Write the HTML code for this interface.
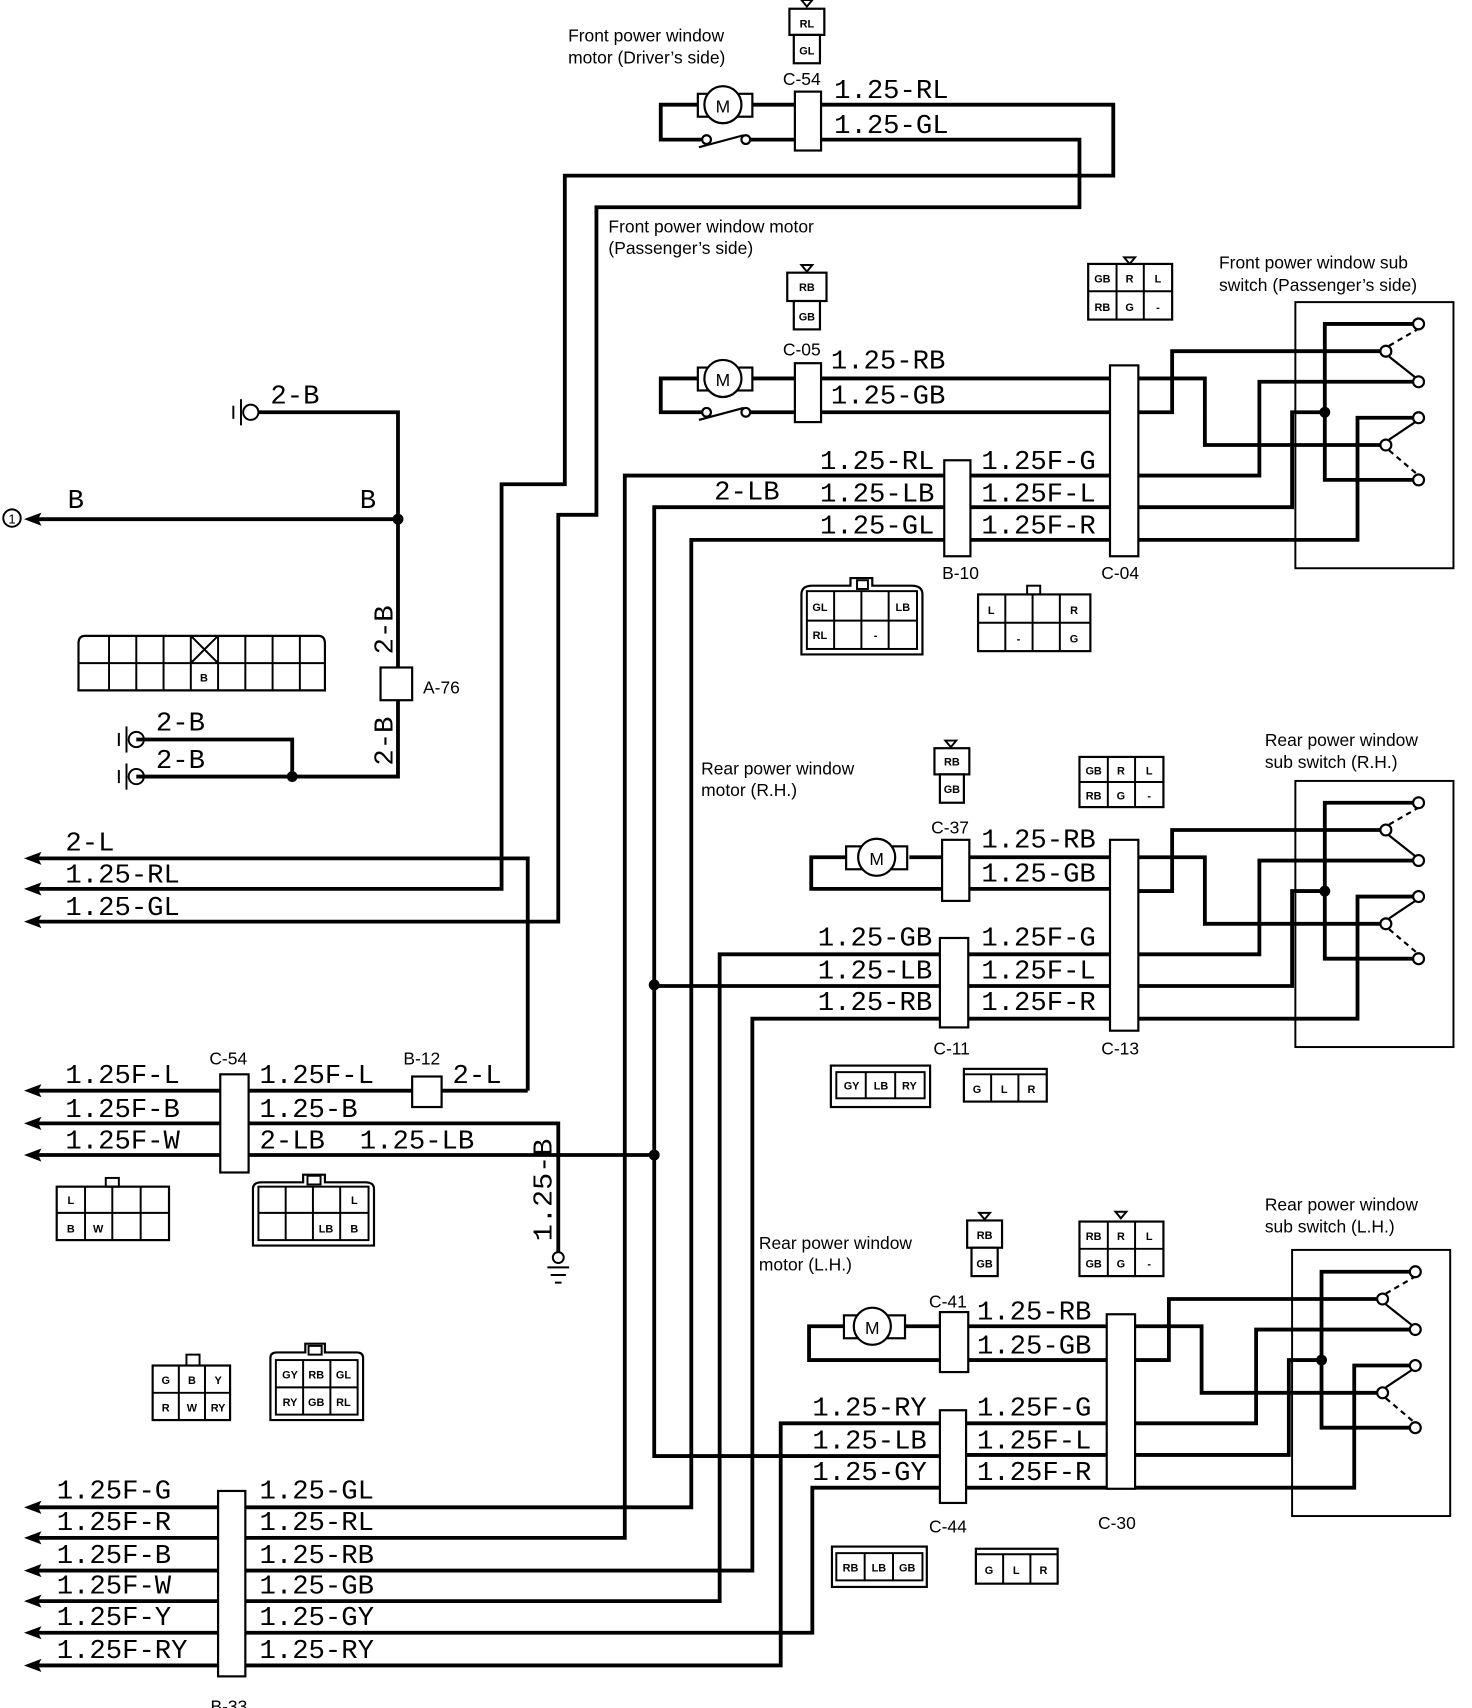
<!DOCTYPE html>
<html><head><meta charset="utf-8"><style>
html,body{margin:0;padding:0;background:#fff;width:1472px;height:1708px;overflow:hidden}
svg{display:block}
.w{fill:none;stroke:#000;stroke-width:3.5}
.t{fill:none;stroke:#000;stroke-width:1.8}
.c{fill:#fff;stroke:#000;stroke-width:2}
.m{font-family:"Liberation Mono",monospace;font-size:25px;fill:#000}
.s{font-family:"Liberation Sans",sans-serif;font-size:16px;fill:#000}
.k{font-family:"Liberation Sans",sans-serif;font-size:10px;font-weight:bold;fill:#000;text-anchor:middle}
</style></head><body>
<svg width="1472" height="1708" viewBox="0 0 1350 1566" preserveAspectRatio="none" xmlns="http://www.w3.org/2000/svg">
<defs>
<g id="arr"><path d="M0 0 L16 -6 L13 0 L16 6 Z" fill="#000"/></g>
<g id="gnd"><circle cx="0" cy="0" r="7" class="t" fill="#fff"/><line x1="-9" y1="-12" x2="-9" y2="12" class="t"/><line x1="-16" y1="-6" x2="-16" y2="6" class="t"/></g>
<g id="sw">
<rect x="1188" y="277" width="145" height="244" class="t"/>
<path class="w" d="M1044 347 H1105 V408 H1266 M1044 378 H1075 V322 H1266 M1044 436 H1155 V350 H1296 M1044 465 H1185 V378 H1215 M1044 495 H1245 V383 H1296 M1296 297 H1215 V440 H1296"/>
<circle cx="1215" cy="378" r="5" fill="#000"/>
<g fill="#fff" stroke="#000" stroke-width="2"><circle cx="1301" cy="297" r="5"/><circle cx="1271" cy="322" r="5"/><circle cx="1301" cy="350" r="5"/><circle cx="1301" cy="383" r="5"/><circle cx="1271" cy="408" r="5"/><circle cx="1301" cy="440" r="5"/></g>
<line x1="1274" y1="327" x2="1298" y2="346" stroke="#000" stroke-width="2"/>
<line x1="1274" y1="317" x2="1300" y2="302" stroke="#000" stroke-width="2" stroke-dasharray="5,4"/>
<line x1="1274" y1="403" x2="1298" y2="387" stroke="#000" stroke-width="2"/>
<line x1="1274" y1="413" x2="1300" y2="435" stroke="#000" stroke-width="2" stroke-dasharray="5,4"/>
</g>
</defs>

<!-- Driver side -->
<path d="M735 0 L745 0 L740 6 Z" class="t"/>
<rect x="724" y="8" width="32" height="24" class="c"/><text x="740" y="25" class="k">RL</text>
<rect x="728" y="32" width="24" height="26" class="c"/><text x="740" y="50" class="k">GL</text>
<text x="521" y="38" class="s">Front power window</text>
<text x="521" y="58" class="s">motor (Driver’s side)</text>
<text x="718" y="78" class="s">C-54</text>
<path class="w" d="M753 96 H1021 V161 H518 V444 H460 V815 H30"/>
<path class="w" d="M753 128 H990 V190 H547 V472 H512 V845 H30"/>
<path class="w" d="M640 96 H606 V128 H644 M688 128 H730 M686 96 H730"/>
<rect x="640" y="86" width="50" height="21" class="c"/><circle cx="663" cy="96" r="17" class="c"/><text x="663" y="103" class="s" text-anchor="middle">M</text>
<circle cx="648" cy="128" r="4" class="c"/><circle cx="684" cy="128" r="4" class="c"/><line x1="641" y1="135" x2="682" y2="124" stroke="#000" stroke-width="2"/>
<rect x="729" y="84" width="24" height="54" class="c"/>
<text x="765" y="90" class="m">1.25-RL</text><text x="765" y="122" class="m">1.25-GL</text>

<!-- Front passenger -->
<text x="558" y="213" class="s">Front power window motor</text>
<text x="558" y="233" class="s">(Passenger’s side)</text>
<path d="M735 243 L745 243 L740 249 Z" class="t"/>
<rect x="722" y="250" width="36" height="26" class="c"/><text x="740" y="267" class="k">RB</text>
<rect x="728" y="276" width="24" height="26" class="c"/><text x="740" y="294" class="k">GB</text>
<path d="M1031 236 L1041 236 L1036 242 Z" class="t"/>
<rect x="998" y="242" width="77" height="51" class="c"/><path class="t" d="M998 267 H1075 M1024 242 V293 M1049 242 V293"/>
<text x="1011" y="259" class="k">GB</text><text x="1036" y="259" class="k">R</text><text x="1062" y="259" class="k">L</text>
<text x="1011" y="285" class="k">RB</text><text x="1036" y="285" class="k">G</text><text x="1062" y="285" class="k">-</text>
<text x="1118" y="246" class="s">Front power window sub</text>
<text x="1118" y="267" class="s">switch (Passenger’s side)</text>
<use href="#sw"/>
<path class="w" d="M640 347 H606 V378 H644 M688 378 H730 M686 347 H730 M753 347 H1018 M753 378 H1018"/>
<rect x="640" y="337" width="50" height="21" class="c"/><circle cx="663" cy="347" r="17" class="c"/><text x="663" y="354" class="s" text-anchor="middle">M</text>
<circle cx="648" cy="378" r="4" class="c"/><circle cx="684" cy="378" r="4" class="c"/><line x1="641" y1="385" x2="682" y2="374" stroke="#000" stroke-width="2"/>
<rect x="729" y="333" width="24" height="54" class="c"/>
<text x="718" y="326" class="s">C-05</text>
<text x="762" y="338" class="m">1.25-RB</text><text x="762" y="370" class="m">1.25-GB</text>
<path class="w" d="M866 436 H573 V1410 H225 M866 465 H600 V1335 H862 M866 495 H634 V1382 H225 M890 436 H1018 M890 465 H1018 M890 495 H1018"/>
<rect x="866" y="422" width="24" height="88" class="c"/>
<rect x="1018" y="335" width="26" height="175" class="c"/>
<text x="752" y="430" class="m">1.25-RL</text><text x="655" y="458" class="m">2-LB</text><text x="752" y="460" class="m">1.25-LB</text><text x="752" y="489" class="m">1.25-GL</text>
<text x="900" y="430" class="m">1.25F-G</text><text x="900" y="460" class="m">1.25F-L</text><text x="900" y="489" class="m">1.25F-R</text>
<text x="864" y="531" class="s">B-10</text><text x="1010" y="531" class="s">C-04</text>
<!-- front connectors -->
<path class="c" d="M735 545 Q735 537 745 537 H780 V530 H800 V537 H836 Q846 537 846 545 V600 H735 Z"/>
<rect x="786" y="532" width="10" height="8" class="t"/>
<rect x="740" y="542" width="101" height="53" class="t"/>
<path class="t" d="M740 569 H841 M765 542 V595 M790 542 V595 M815 542 V595"/>
<text x="752" y="560" class="k">GL</text><text x="828" y="560" class="k">LB</text><text x="752" y="586" class="k">RL</text><text x="803" y="586" class="k">-</text>
<rect x="897" y="545" width="103" height="52" class="c"/><rect x="942" y="537" width="12" height="8" class="t"/>
<path class="t" d="M897 571 H1000 M922 545 V597 M947 545 V597 M972 545 V597"/>
<text x="909" y="563" class="k">L</text><text x="985" y="563" class="k">R</text><text x="934" y="589" class="k">-</text><text x="985" y="589" class="k">G</text>

<!-- Left upper -->
<use href="#gnd" x="230" y="378"/>
<text x="248" y="370" class="m">2-B</text>
<path class="w" d="M237 378 H365 V612 M365 642 V712 H125"/>
<path class="w" d="M125 678 H268 V712"/>
<circle cx="365" cy="476" r="5" fill="#000"/><circle cx="268" cy="712" r="5" fill="#000"/>
<path class="w" d="M365 476 H30"/><use href="#arr" x="22" y="476"/>
<circle cx="11" cy="475" r="8" class="t"/><text x="11" y="480" class="k" style="font-weight:normal;font-size:12px">1</text>
<text x="62" y="466" class="m">B</text><text x="330" y="466" class="m">B</text>
<rect x="349" y="612" width="29" height="30" class="c"/><text x="388" y="636" class="s">A-76</text>
<text transform="translate(360,600) rotate(-90)" class="m">2-B</text>
<text transform="translate(360,702) rotate(-90)" class="m">2-B</text>
<use href="#gnd" x="125" y="678"/><use href="#gnd" x="125" y="712"/>
<text x="143" y="670" class="m">2-B</text><text x="143" y="704" class="m">2-B</text>
<path class="c" d="M72 590 Q72 583 78 583 H292 Q298 583 298 590 V633 H72 Z"/>
<path class="t" d="M72 608 H298 M100 583 V633 M125 583 V633 M150 583 V633 M175 583 V633 M200 583 V633 M225 583 V633 M250 583 V633 M275 583 V633 M175 583 L200 608 M200 583 L175 608"/>
<text x="187" y="625" class="k">B</text>

<path class="w" d="M484 1000 V787 H30"/>
<use href="#arr" x="22" y="787"/><use href="#arr" x="22" y="815"/><use href="#arr" x="22" y="845"/>
<text x="60" y="780" class="m">2-L</text><text x="60" y="809" class="m">1.25-RL</text><text x="60" y="839" class="m">1.25-GL</text>

<!-- C-54 lower -->
<path class="w" d="M30 1000 H202 M30 1030 H202 M30 1059 H202 M228 1000 H378 M405 1000 H484 M228 1030 H512 V1148 M228 1059 H600"/>
<circle cx="600" cy="1059" r="5" fill="#000"/><circle cx="600" cy="903" r="5" fill="#000"/>
<use href="#arr" x="22" y="1000"/><use href="#arr" x="22" y="1030"/><use href="#arr" x="22" y="1059"/>
<rect x="202" y="985" width="26" height="90" class="c"/><rect x="378" y="987" width="27" height="28" class="c"/>
<text x="192" y="976" class="s">C-54</text><text x="370" y="976" class="s">B-12</text>
<text x="60" y="993" class="m">1.25F-L</text><text x="60" y="1024" class="m">1.25F-B</text><text x="60" y="1053" class="m">1.25F-W</text>
<text x="238" y="993" class="m">1.25F-L</text><text x="238" y="1024" class="m">1.25-B</text><text x="238" y="1053" class="m">2-LB</text><text x="330" y="1053" class="m">1.25-LB</text>
<text x="415" y="993" class="m">2-L</text>
<text transform="translate(506,1138) rotate(-90)" class="m" textLength="94" lengthAdjust="spacingAndGlyphs">1.25-B</text>
<circle cx="512" cy="1153" r="5" class="t" fill="#fff"/>
<path class="t" d="M502 1162 H522 M505 1169 H519 M509 1176 H515"/>
<rect x="52" y="1088" width="103" height="49" class="c"/><rect x="97" y="1080" width="12" height="8" class="t"/>
<path class="t" d="M52 1112 H155 M78 1088 V1137 M103 1088 V1137 M129 1088 V1137"/>
<text x="65" y="1104" class="k">L</text><text x="65" y="1130" class="k">B</text><text x="90" y="1130" class="k">W</text>
<path class="c" d="M232 1090 Q232 1084 240 1084 H278 V1077 H298 V1084 H335 Q343 1084 343 1090 V1142 H232 Z"/>
<rect x="282" y="1078" width="12" height="8" class="t"/>
<rect x="237" y="1088" width="101" height="49" class="t"/>
<path class="t" d="M237 1112 H338 M262 1088 V1137 M287 1088 V1137 M312 1088 V1137"/>
<text x="325" y="1104" class="k">L</text><text x="299" y="1130" class="k">LB</text><text x="325" y="1130" class="k">B</text>

<rect x="140" y="1252" width="71" height="50" class="c"/><rect x="171" y="1242" width="12" height="10" class="t"/>
<path class="t" d="M140 1277 H211 M164 1252 V1302 M188 1252 V1302"/>
<text x="152" y="1269" class="k">G</text><text x="176" y="1269" class="k">B</text><text x="200" y="1269" class="k">Y</text>
<text x="152" y="1294" class="k">R</text><text x="176" y="1294" class="k">W</text><text x="200" y="1294" class="k">RY</text>
<path class="c" d="M248 1245 Q248 1240 254 1240 H280 V1232 H298 V1240 H327 Q333 1240 333 1245 V1302 H248 Z"/>
<rect x="283" y="1234" width="12" height="8" class="t"/>
<rect x="253" y="1247" width="75" height="50" class="t"/>
<path class="t" d="M253 1272 H328 M278 1247 V1297 M303 1247 V1297"/>
<text x="266" y="1264" class="k">GY</text><text x="290" y="1264" class="k">RB</text><text x="315" y="1264" class="k">GL</text>
<text x="266" y="1289" class="k">RY</text><text x="290" y="1289" class="k">GB</text><text x="315" y="1289" class="k">RL</text>

<!-- Rear RH -->
<text x="643" y="710" class="s">Rear power window</text><text x="643" y="730" class="s">motor (R.H.)</text>
<path d="M867 679 L877 679 L872 685 Z" class="t"/>
<rect x="857" y="686" width="32" height="24" class="c"/><text x="873" y="702" class="k">RB</text>
<rect x="862" y="710" width="22" height="26" class="c"/><text x="873" y="727" class="k">GB</text>
<rect x="990" y="694" width="77" height="46" class="c"/><path class="t" d="M990 717 H1067 M1016 694 V740 M1041 694 V740"/>
<text x="1003" y="710" class="k">GB</text><text x="1028" y="710" class="k">R</text><text x="1054" y="710" class="k">L</text>
<text x="1003" y="733" class="k">RB</text><text x="1028" y="733" class="k">G</text><text x="1054" y="733" class="k">-</text>
<text x="1160" y="684" class="s">Rear power window</text><text x="1160" y="704" class="s">sub switch (R.H.)</text>
<use href="#sw" y="439"/>
<path class="w" d="M776 786 H744 V815 H864 M834 786 H864 M889 786 H1018 M889 815 H1018"/>
<rect x="776" y="776" width="56" height="21" class="c"/><circle cx="804" cy="786" r="17" class="c"/><text x="804" y="793" class="s" text-anchor="middle">M</text>
<rect x="864" y="770" width="25" height="56" class="c"/><text x="854" y="764" class="s">C-37</text>
<text x="900" y="777" class="m">1.25-RB</text><text x="900" y="808" class="m">1.25-GB</text>
<path class="w" d="M862 875 H660 V1468 H225 M862 904 H600 M862 934 H690 V1440 H225 M888 875 H1018 M888 904 H1018 M888 934 H1018"/>
<rect x="862" y="860" width="26" height="82" class="c"/>
<rect x="1018" y="770" width="26" height="175" class="c"/>
<text x="750" y="867" class="m">1.25-GB</text><text x="750" y="897" class="m">1.25-LB</text><text x="750" y="926" class="m">1.25-RB</text>
<text x="900" y="867" class="m">1.25F-G</text><text x="900" y="897" class="m">1.25F-L</text><text x="900" y="926" class="m">1.25F-R</text>
<text x="856" y="967" class="s">C-11</text><text x="1010" y="967" class="s">C-13</text>
<rect x="762" y="977" width="91" height="38" class="c"/><rect x="767" y="983" width="81" height="24" class="t"/>
<path class="t" d="M794 983 V1007 M821 983 V1007"/>
<text x="781" y="999" class="k">GY</text><text x="808" y="999" class="k">LB</text><text x="834" y="999" class="k">RY</text>
<rect x="884" y="980" width="76" height="30" class="c"/><path class="t" d="M884 985 H960 M909 985 V1010 M934 985 V1010"/>
<text x="896" y="1002" class="k">G</text><text x="921" y="1002" class="k">L</text><text x="946" y="1002" class="k">R</text>

<!-- Rear LH -->
<text x="696" y="1145" class="s">Rear power window</text><text x="696" y="1165" class="s">motor (L.H.)</text>
<path d="M898 1112 L908 1112 L903 1118 Z" class="t"/>
<rect x="887" y="1119" width="32" height="25" class="c"/><text x="903" y="1136" class="k">RB</text>
<rect x="891" y="1144" width="24" height="26" class="c"/><text x="903" y="1162" class="k">GB</text>
<path d="M1023 1111 L1033 1111 L1028 1117 Z" class="t"/>
<rect x="990" y="1120" width="77" height="50" class="c"/><path class="t" d="M990 1145 H1067 M1016 1120 V1170 M1041 1120 V1170"/>
<text x="1003" y="1137" class="k">RB</text><text x="1028" y="1137" class="k">R</text><text x="1054" y="1137" class="k">L</text>
<text x="1003" y="1162" class="k">GB</text><text x="1028" y="1162" class="k">G</text><text x="1054" y="1162" class="k">-</text>
<text x="1160" y="1110" class="s">Rear power window</text><text x="1160" y="1130" class="s">sub switch (L.H.)</text>
<use href="#sw" x="-3" y="869"/>
<path class="w" d="M774 1216 H742 V1247 H862 M830 1216 H862 M888 1216 H1015 M888 1247 H1015"/>
<rect x="774" y="1206" width="56" height="21" class="c"/><circle cx="800" cy="1216" r="17" class="c"/><text x="800" y="1223" class="s" text-anchor="middle">M</text>
<rect x="862" y="1203" width="26" height="55" class="c"/><text x="852" y="1199" class="s">C-41</text>
<text x="896" y="1210" class="m">1.25-RB</text><text x="896" y="1241" class="m">1.25-GB</text>
<path class="w" d="M862 1305 H716 V1527 H225 M862 1364 H745 V1497 H225 M886 1305 H1015 M886 1334 H1015 M886 1364 H1015"/>
<rect x="862" y="1293" width="24" height="85" class="c"/>
<rect x="1015" y="1205" width="26" height="160" class="c"/>
<text x="745" y="1298" class="m">1.25-RY</text><text x="745" y="1328" class="m">1.25-LB</text><text x="745" y="1357" class="m">1.25-GY</text>
<text x="896" y="1298" class="m">1.25F-G</text><text x="896" y="1328" class="m">1.25F-L</text><text x="896" y="1357" class="m">1.25F-R</text>
<text x="852" y="1405" class="s">C-44</text><text x="1007" y="1402" class="s">C-30</text>
<rect x="763" y="1418" width="87" height="37" class="c"/><rect x="767" y="1424" width="79" height="25" class="t"/>
<path class="t" d="M793 1424 V1449 M819 1424 V1449"/>
<text x="780" y="1441" class="k">RB</text><text x="806" y="1441" class="k">LB</text><text x="832" y="1441" class="k">GB</text>
<rect x="895" y="1420" width="75" height="32" class="c"/><path class="t" d="M895 1425 H970 M920 1425 V1452 M945 1425 V1452"/>
<text x="907" y="1443" class="k">G</text><text x="932" y="1443" class="k">L</text><text x="957" y="1443" class="k">R</text>

<!-- B-33 -->
<path class="w" d="M30 1382 H200 M30 1410 H200 M30 1440 H200 M30 1468 H200 M30 1497 H200 M30 1527 H200"/>
<use href="#arr" x="22" y="1382"/><use href="#arr" x="22" y="1410"/><use href="#arr" x="22" y="1440"/><use href="#arr" x="22" y="1468"/><use href="#arr" x="22" y="1497"/><use href="#arr" x="22" y="1527"/>
<rect x="200" y="1367" width="25" height="170" class="c"/>
<text x="52" y="1374" class="m">1.25F-G</text><text x="52" y="1403" class="m">1.25F-R</text><text x="52" y="1433" class="m">1.25F-B</text><text x="52" y="1461" class="m">1.25F-W</text><text x="52" y="1490" class="m">1.25F-Y</text><text x="52" y="1520" class="m">1.25F-RY</text>
<text x="238" y="1374" class="m">1.25-GL</text><text x="238" y="1403" class="m">1.25-RL</text><text x="238" y="1433" class="m">1.25-RB</text><text x="238" y="1461" class="m">1.25-GB</text><text x="238" y="1490" class="m">1.25-GY</text><text x="238" y="1520" class="m">1.25-RY</text>
<text x="193" y="1570" class="s">B-33</text>
</svg>
</body></html>
